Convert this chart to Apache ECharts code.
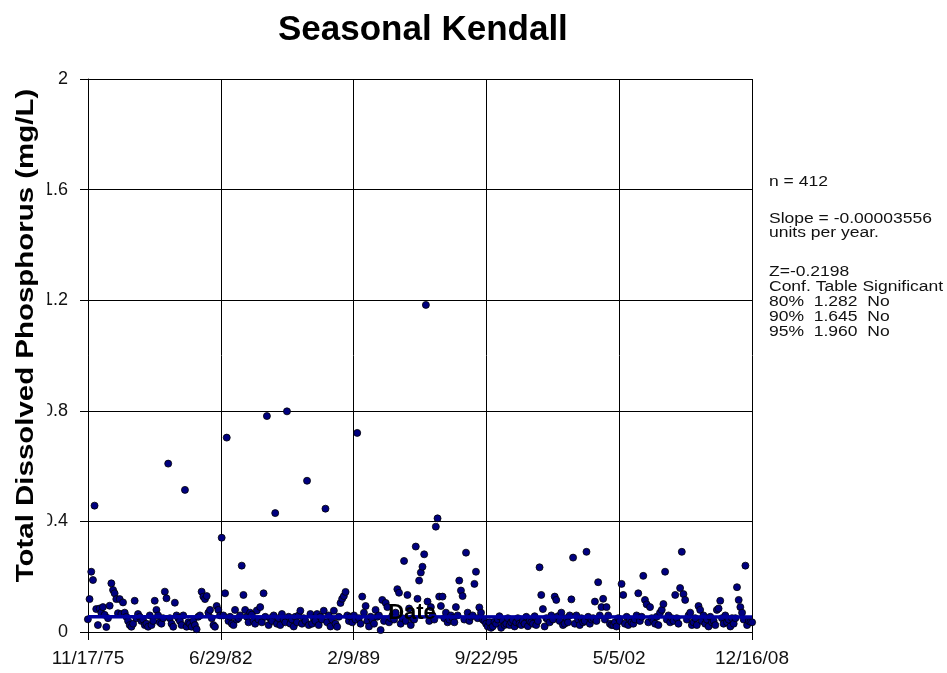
<!DOCTYPE html>
<html><head><meta charset="utf-8">
<script src="https://cdn.jsdelivr.net/npm/echarts@6/dist/echarts.min.js"></script>
<style>html,body{margin:0;padding:0;background:#fff}#c{width:947px;height:673px}</style>
</head><body><div id="c"></div>
<script>
const chartTitle = 'Seasonal Kendall';
const yAxisTitle = 'Total Dissolved Phosphorus (mg/L)';
const xAxisTitle = 'Date';
const xTickLabels = ['11/17/75', '6/29/82', '2/9/89', '9/22/95', '5/5/02', '12/16/08'];
const xStartUTC = Date.UTC(1975, 10, 17);   // 11/17/75
const xTickStepDays = 2416;
const yTicks = [0, 0.4, 0.8, 1.2, 1.6, 2];
const statN = ['n = 412'];
const statSlope = ['Slope = -0.00003556', 'units per year.'];
const statTable = ['Z=-0.2198', 'Conf. Table Significant', '80%  1.282  No', '90%  1.645  No', '95%  1.960  No'];

// monthly samples, first one Nov 1975 (sampled mid-month)
const firstSample = [1975, 11];
const tdpMonthly = [
  0.046, 0.119,
  0.218, 0.188, 0.457, 0.083, 0.025, 0.085, 0.07, 0.09, 0.062, 0.018, 0.05, 0.095,
  0.176, 0.152, 0.14, 0.119, 0.068, 0.119, 0.065, 0.107, 0.07, 0.055, 0.04, 0.025,
  0.019, 0.03, 0.113, 0.05, 0.065, 0.055, 0.04, 0.045, 0.025, 0.03, 0.019, 0.06,
  0.025, 0.04, 0.113, 0.08, 0.06, 0.035, 0.03, 0.05, 0.146, 0.122, 0.609, 0.05,
  0.03, 0.019, 0.106, 0.06, 0.05, 0.04, 0.025, 0.06, 0.514, 0.019, 0.035, 0.03,
  0.019, 0.04, 0.025, 0.01, 0.055, 0.06, 0.146, 0.128, 0.119, 0.13, 0.07, 0.08,
  0.05, 0.025, 0.019, 0.094, 0.08, 0.06, 0.341, 0.06, 0.14, 0.703, 0.04, 0.055,
  0.03, 0.025, 0.08, 0.045, 0.05, 0.06, 0.24, 0.134, 0.08, 0.055, 0.035, 0.07,
  0.063, 0.04, 0.03, 0.078, 0.045, 0.09, 0.035, 0.14, 0.055, 0.781, 0.025, 0.05,
  0.04, 0.06, 0.43, 0.03, 0.05, 0.025, 0.065, 0.045, 0.035, 0.798, 0.055, 0.03,
  0.045, 0.02, 0.055, 0.035, 0.06, 0.077, 0.03, 0.05, 0.04, 0.547, 0.025, 0.065,
  0.03, 0.05, 0.04, 0.065, 0.025, 0.055, 0.045, 0.077, 0.446, 0.035, 0.06, 0.02,
  0.045, 0.077, 0.03, 0.019, 0.055, 0.105, 0.12, 0.13, 0.145, 0.06, 0.04, 0.055,
  0.035, 0.06, 0.045, 0.72, 0.05, 0.03, 0.128, 0.07, 0.094, 0.04, 0.02, 0.055,
  0.045, 0.03, 0.08, 0.055, 0.06, 0.007, 0.116, 0.04, 0.105, 0.09, 0.035, 0.05,
  0.06, 0.045, 0.07, 0.155, 0.142, 0.03, 0.05, 0.257, 0.04, 0.134, 0.085, 0.025,
  0.05, 0.045, 0.309, 0.12, 0.186, 0.215, 0.236, 0.281, 1.183, 0.11, 0.04, 0.09,
  0.06, 0.045, 0.381, 0.411, 0.128, 0.094, 0.128, 0.05, 0.07, 0.035, 0.045, 0.06,
  0.05, 0.035, 0.09, 0.06, 0.186, 0.15, 0.13, 0.045, 0.287, 0.07, 0.04, 0.055,
  0.06, 0.174, 0.218, 0.05, 0.089, 0.07, 0.045, 0.04, 0.03, 0.02, 0.035, 0.015,
  0.02, 0.037, 0.03, 0.045, 0.057, 0.015, 0.04, 0.025, 0.03, 0.05, 0.025, 0.035,
  0.043, 0.02, 0.035, 0.05, 0.03, 0.025, 0.04, 0.03, 0.055, 0.021, 0.04, 0.035,
  0.03, 0.057, 0.025, 0.04, 0.234, 0.134, 0.083, 0.02, 0.05, 0.045, 0.035, 0.06,
  0.045, 0.128, 0.116, 0.057, 0.04, 0.07, 0.025, 0.03, 0.05, 0.035, 0.06, 0.118,
  0.269, 0.03, 0.06, 0.045, 0.025, 0.05, 0.035, 0.04, 0.29, 0.055, 0.03, 0.045,
  0.05, 0.11, 0.04, 0.18, 0.06, 0.09, 0.12, 0.045, 0.09, 0.06, 0.03, 0.025,
  0.025, 0.035, 0.02, 0.05, 0.04, 0.174, 0.134, 0.03, 0.055, 0.025, 0.045, 0.035,
  0.03, 0.045, 0.06, 0.14, 0.04, 0.055, 0.203, 0.116, 0.1, 0.035, 0.09, 0.05,
  0.04, 0.03, 0.055, 0.025, 0.07, 0.08, 0.101, 0.218, 0.045, 0.06, 0.035, 0.05,
  0.04, 0.134, 0.05, 0.03, 0.159, 0.29, 0.137, 0.116, 0.045, 0.06, 0.07, 0.025,
  0.035, 0.05, 0.025, 0.094, 0.08, 0.04, 0.06, 0.03, 0.045, 0.02, 0.055, 0.035,
  0.04, 0.025, 0.08, 0.085, 0.113, 0.05, 0.03, 0.06, 0.035, 0.045, 0.02, 0.05,
  0.03, 0.05, 0.162, 0.116, 0.09, 0.07, 0.045, 0.24, 0.025, 0.04, 0.037, 0.035
];
// Sen slope trend (start, end of record)
const trendEnds = [0.0556, 0.0544];

const DAY = 86400000;
const xMax = xTickStepDays * (xTickLabels.length - 1);
const scatterData = tdpMonthly.map((v, i) => {
  const m0 = firstSample[1] - 1 + i;
  const t = Date.UTC(firstSample[0] + Math.floor(m0 / 12), m0 % 12, 15);
  return [(t - xStartUTC) / DAY, v];
});

const FONT = '"Liberation Sans", Arial, sans-serif';
const chart = echarts.init(document.getElementById('c'), null, {renderer: 'canvas'});
chart.setOption({
  animation: false,
  backgroundColor: '#fff',
  title: {
    text: chartTitle, left: 273, top: 8,
    textStyle: {fontFamily: FONT, fontSize: 35, fontWeight: 'bold', color: '#000'}
  },
  grid: {left: 88, right: 195, top: 79, bottom: 41, containLabel: false, show: false},
  xAxis: {
    type: 'value', min: 0, max: xMax, interval: xTickStepDays,
    axisLine: {show: true, lineStyle: {color: '#000', width: 1}},
    axisTick: {show: true, length: 8, inside: false, lineStyle: {color: '#000'}},
    splitLine: {show: true, lineStyle: {color: '#000', width: 1}},
    axisLabel: {
      margin: 17, fontFamily: FONT, fontSize: 19, color: '#111',
      formatter: v => xTickLabels[Math.round(v / xTickStepDays)]
    }
  },
  yAxis: {
    type: 'value', min: yTicks[0], max: yTicks[yTicks.length - 1], interval: 0.4,
    axisLine: {show: true, lineStyle: {color: '#000', width: 1}},
    axisTick: {show: true, length: 8, lineStyle: {color: '#000'}},
    splitLine: {show: true, lineStyle: {color: '#000', width: 1}},
    axisLabel: {
      margin: 20, fontFamily: FONT, fontSize: 18, color: '#111',
      formatter: v => String(+v.toFixed(1))
    }
  },
  series: [
    {
      type: 'scatter', data: scatterData, clip: false, symbol: 'circle', symbolSize: 7,
      itemStyle: {color: '#000080', borderColor: '#000', borderWidth: 0.8, opacity: 1},
      z: 2
    },
    {
      type: 'line', data: [[0, trendEnds[0]], [xMax, trendEnds[1]]], symbol: 'none',
      lineStyle: {color: '#0000a0', width: 3.5}, z: 3
    }
  ],
  graphic: [
    {
      type: 'text', x: 27, y: 335.5, rotation: Math.PI / 2, scaleX: 1.28, z: 100,
      style: {
        text: yAxisTitle, font: 'bold 23px ' + FONT, fill: '#000',
        align: 'center', verticalAlign: 'middle', lineHeight: 24,
        backgroundColor: '#fff', padding: [8, 4, 8.5, 4]
      }
    },
    {
      type: 'text', x: 412, y: 613, z: 100,
      style: {text: xAxisTitle, font: 'bold 22px ' + FONT, fill: '#000', align: 'center', verticalAlign: 'middle'}
    },
    {
      type: 'text', x: 769, y: 174.2, scaleX: 1.25, z: 100,
      style: {text: statN.join('\n'), font: '14px ' + FONT, fill: '#111', lineHeight: 15, verticalAlign: 'top'}
    },
    {
      type: 'text', x: 769, y: 211.5, scaleX: 1.25, z: 100,
      style: {text: statSlope.join('\n'), font: '14px ' + FONT, fill: '#111', lineHeight: 14.5, verticalAlign: 'top'}
    },
    {
      type: 'text', x: 769, y: 264.5, scaleX: 1.25, z: 100,
      style: {text: statTable.join('\n'), font: '14px ' + FONT, fill: '#111', lineHeight: 15, verticalAlign: 'top'}
    }
  ]
});
</script>
</body></html>
